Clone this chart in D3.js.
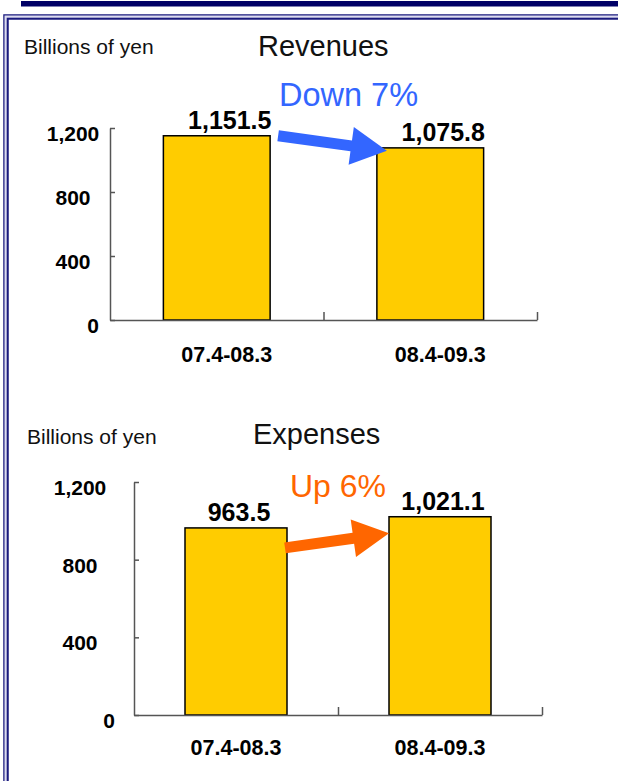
<!DOCTYPE html>
<html>
<head>
<meta charset="utf-8">
<script src="https://cdn.jsdelivr.net/npm/d3@7/dist/d3.min.js"></script>
<style>
  html, body { margin: 0; padding: 0; background: #fff; }
  svg { display: block; }
  text { font-family: "Liberation Sans", Arial, sans-serif; }
</style>
</head>
<body>
<svg id="chart" width="618" height="781"></svg>
<script>
// Fiscal periods shown on the horizontal axis
const categories = ["07.4-08.3", "08.4-09.3"];

// Amounts in billions of yen
const revenues = [1151.5, 1075.8];
const expenses = [963.5, 1021.1];

// Value axis ticks
const yTicks = [0, 400, 800, 1200];

// Year-over-year change captions
const revenueChange = "Down 7%";
const expenseChange = "Up 6%";

const unitLabel = "Billions of yen";

const svg = d3.select("#chart");

// ---- page frame ----
const navy = "#1a1a7e";
svg.append("rect").attr("x", 21).attr("y", 1).attr("width", 600).attr("height", 5.5).attr("fill", "#000066");
svg.append("rect").attr("x", 6).attr("y", 17).attr("width", 640).attr("height", 800)
  .attr("fill", "none").attr("stroke", navy).attr("stroke-width", 5.5);
svg.append("rect").attr("x", 5.6).attr("y", 16.6).attr("width", 640).attr("height", 800)
  .attr("fill", "none").attr("stroke", "#dcdcf0").attr("stroke-width", 2.2);

function panel(cfg) {
  const g = svg.append("g");

  const x = d3.scaleBand().domain(categories)
    .range([cfg.left, cfg.right]).paddingInner(0.5).paddingOuter(0.25);
  const y = d3.scaleLinear().domain([0, 1200]).range([cfg.bottom, cfg.top]);
  const edges = d3.scaleLinear().domain([0, categories.length]).range([cfg.left, cfg.right]);

  // unit caption and title
  g.append("text").attr("x", cfg.unitX).attr("y", cfg.unitY)
    .attr("font-size", 21).attr("fill", "#111").text(unitLabel);
  g.append("text").attr("x", cfg.titleX).attr("y", cfg.titleY)
    .attr("font-size", 29).attr("fill", "#111").text(cfg.title);

  // bars
  g.selectAll("rect.bar").data(cfg.values).join("rect")
    .attr("class", "bar")
    .attr("x", (d, i) => x(categories[i]))
    .attr("y", d => y(d))
    .attr("width", x.bandwidth())
    .attr("height", d => y(0) - y(d))
    .attr("fill", "#FFCC00")
    .attr("stroke", "#000")
    .attr("stroke-width", 1.5);

  // value labels
  g.selectAll("text.val").data(cfg.values).join("text")
    .attr("class", "val")
    .attr("x", (d, i) => x(categories[i]) + x.bandwidth() / 2 + cfg.valueDx)
    .attr("y", d => y(d) - 7)
    .attr("text-anchor", "middle")
    .attr("font-size", 25).attr("font-weight", "bold").attr("fill", "#000")
    .text(d => d3.format(",.1f")(d));

  // y axis, ticks pointing inward
  const yAxis = g.append("g").attr("transform", `translate(${cfg.left},0)`)
    .call(d3.axisLeft(y).tickValues(yTicks).tickSize(-5).tickSizeOuter(0).tickFormat(d3.format(",")));
  yAxis.select(".domain").attr("stroke", "#555").attr("stroke-width", 1.5);
  yAxis.selectAll(".tick line").attr("stroke", "#555").attr("stroke-width", 1.5);
  yAxis.selectAll(".tick text")
    .attr("font-family", "Liberation Sans, Arial, sans-serif")
    .attr("font-size", 21).attr("font-weight", "bold").attr("fill", "#000")
    .attr("dy", "0.6em")
    .attr("text-anchor", d => d === 0 ? "end" : "middle")
    .attr("x", d => d === 0 ? -cfg.zeroGap : -cfg.labelGap);

  // x axis with tick marks at category boundaries
  const xAxis = g.append("g").attr("transform", `translate(0,${cfg.bottom})`)
    .call(d3.axisBottom(edges).tickValues([1, 2]).tickSize(-8).tickSizeOuter(0).tickFormat(""));
  xAxis.select(".domain").attr("stroke", "#555").attr("stroke-width", 1.5);
  xAxis.selectAll(".tick line").attr("stroke", "#555").attr("stroke-width", 1.5);

  // category labels
  g.selectAll("text.cat").data(categories).join("text")
    .attr("class", "cat")
    .attr("x", d => x(d) + x.bandwidth() / 2 + cfg.catDx)
    .attr("y", cfg.bottom + cfg.catDy)
    .attr("text-anchor", "middle")
    .attr("font-size", 21.5).attr("font-weight", "bold").attr("fill", "#000")
    .text(d => d);

  // change arrow from the first bar to the second
  const x0 = x(categories[0]) + x.bandwidth() + cfg.arrow.sx;
  const y0 = y(cfg.values[0]) + cfg.arrow.sy;
  const x1 = x(categories[1]) + cfg.arrow.tx;
  const y1 = y(cfg.values[1]) + cfg.arrow.ty;
  const len = Math.hypot(x1 - x0, y1 - y0);
  const ux = (x1 - x0) / len, uy = (y1 - y0) / len;
  const nx = -uy, ny = ux;
  const sw = 5.5, hl = 36, hw = 19;
  const bx = x1 - ux * hl, by = y1 - uy * hl;
  const pts = [
    [x0 + nx * sw, y0 + ny * sw],
    [bx + nx * sw, by + ny * sw],
    [bx + nx * hw, by + ny * hw],
    [x1, y1],
    [bx - nx * hw, by - ny * hw],
    [bx - nx * sw, by - ny * sw],
    [x0 - nx * sw, y0 - ny * sw]
  ];
  g.append("path").attr("d", d3.line()(pts) + "Z").attr("fill", cfg.color);

  g.append("text").attr("x", cfg.changeX).attr("y", cfg.changeY)
    .attr("font-size", cfg.changeSize).attr("fill", cfg.color).text(cfg.change);
}

panel({
  title: "Revenues", values: revenues, change: revenueChange, color: "#3366FF",
  left: 110, right: 537, top: 128, bottom: 320,
  unitX: 24, unitY: 54, titleX: 258, titleY: 56,
  valueDx: 13, catDx: 10, labelGap: 37, zeroGap: 11, catDy: 42,
  arrow: { sx: 8, sy: 0, tx: 10, ty: 3 },
  changeX: 279, changeY: 106, changeSize: 32.5
});

panel({
  title: "Expenses", values: expenses, change: expenseChange, color: "#FF6600",
  left: 134, right: 542, top: 482, bottom: 715,
  unitX: 27, unitY: 444, titleX: 253, titleY: 444,
  valueDx: 3, catDx: 0, labelGap: 54, zeroGap: 19, catDy: 40,
  arrow: { sx: -2, sy: 20, tx: 0, ty: 16.5 },
  changeX: 290, changeY: 497, changeSize: 32
});
</script>
</body>
</html>
